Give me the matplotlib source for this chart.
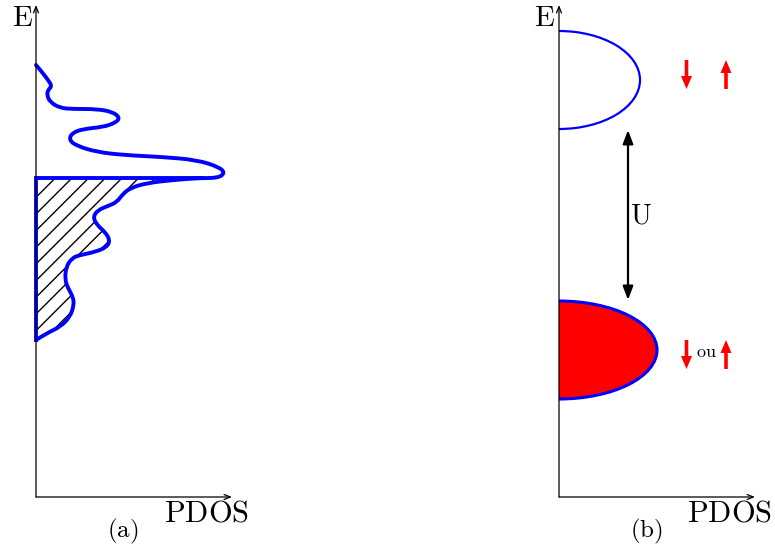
import matplotlib
matplotlib.use("Agg")
import matplotlib.pyplot as plt
from matplotlib.patches import Arc, Ellipse, Rectangle, PathPatch
from matplotlib.path import Path

plt.rcParams['mathtext.fontset'] = 'cm'
plt.rcParams['hatch.linewidth'] = 1.0

# panel (a): projected DOS, (pdos, E) pairs above the Fermi level
dos_top_pdos = [0, 6, 12, 16, 12, 11, 14, 24, 37, 61, 77, 84, 79, 67, 47, 36, 33,
                41, 61, 87, 127, 161, 183, 189, 182, 164]
dos_top_E = [432, 425, 417, 411, 407, 402, 395, 389, 388, 388, 385, 379, 374, 370,
             368, 364, 357, 351, 345, 342, 340, 337, 330, 324, 319, 319]
# ... and below it (occupied states)
dos_low_pdos = [164, 137, 111, 94, 86, 81, 72, 62, 57, 61, 69, 74, 71, 59, 44, 36,
                30, 29, 32, 37, 38, 34, 24, 11, 0]
dos_low_E = [319, 317, 314, 309, 302, 295, 291, 287, 280, 272, 265, 257, 250, 245,
             242, 239, 230, 217, 209, 200, 192, 180, 170, 164, 157]
fermi_E = 319
fermi_pdos = 167

# panel (b): Hubbard bands (centre E, half height, width)
upper_band = (417, 49, 81)
lower_band = (147, 49, 98)
gap_pdos = 69
gap_E = (367, 197)
spin_pdos = (127.5, 167)
spin_E_upper = (437, 408)
spin_E_lower = (157, 128)

axis_E_max = 492
axis_pdos_max = 196

origin_a = (36, 51)
origin_b = (559, 51)

fig = plt.figure(figsize=(7.75, 5.48), dpi=100)
ax = fig.add_axes([0, 0, 1, 1])
ax.set_xlim(0, 775)
ax.set_ylim(0, 548)
ax.axis('off')


def smooth_verts(xs, ys):
    # quadratic B-spline through the given control points
    pts = list(zip(xs, ys))
    verts = [pts[0]]
    codes = [Path.MOVETO]
    for i in range(1, len(pts) - 2):
        mid = ((pts[i][0] + pts[i + 1][0]) / 2, (pts[i][1] + pts[i + 1][1]) / 2)
        verts += [pts[i], mid]
        codes += [Path.CURVE3, Path.CURVE3]
    verts += [pts[-2], pts[-1]]
    codes += [Path.CURVE3, Path.CURVE3]
    return verts, codes


def draw_axes(o, sub):
    ox, oy = o
    ap = dict(arrowstyle='->,head_length=0.45,head_width=0.18', lw=0.9,
              color='black', shrinkA=0, shrinkB=0)
    ax.annotate('', xy=(ox, oy + axis_E_max), xytext=(ox, oy), arrowprops=ap)
    ax.annotate('', xy=(ox + axis_pdos_max, oy), xytext=(ox, oy), arrowprops=ap)
    ax.text(ox - 14, oy + 479, r'$\mathrm{E}$', fontsize=21, ha='center', va='center')
    ax.text(ox + 171, oy - 16, r'$\mathrm{PDOS}$', fontsize=22, ha='center', va='center')
    ax.text(ox + 87, oy - 34, r'$\mathrm{(%s)}$' % sub, fontsize=18, ha='center', va='center')


# ---- panel (a)
ox, oy = origin_a
draw_axes(origin_a, 'a')

# hatched occupied part: Fermi line, DOS curve down to the axis, back up
low_x = [ox + p for p in dos_low_pdos]
low_y = [oy + e for e in dos_low_E]
v, c = smooth_verts(low_x, low_y)
v = [(ox, oy + fermi_E)] + v + [(ox, oy + fermi_E), (ox, oy + fermi_E)]
c = [Path.MOVETO] + [Path.LINETO] + c[1:] + [Path.LINETO, Path.CLOSEPOLY]
ax.add_patch(PathPatch(Path(v, c), facecolor='none', edgecolor='black', lw=0, hatch='//'))

curve_x = [ox + p for p in dos_top_pdos + dos_low_pdos[1:]]
curve_y = [oy + e for e in dos_top_E + dos_low_E[1:]]
v, c = smooth_verts(curve_x, curve_y)
ax.add_patch(PathPatch(Path(v, c), facecolor='none', edgecolor='blue', lw=2.8,
                       capstyle='round', joinstyle='round'))
ax.plot([ox, ox, ox + fermi_pdos], [oy + dos_low_E[-1], oy + fermi_E, oy + fermi_E],
        color='blue', lw=2.8, solid_joinstyle='miter')

# ---- panel (b)
ox, oy = origin_b
draw_axes(origin_b, 'b')
e_c, h, w = upper_band
ax.add_patch(Arc((ox, oy + e_c), 2 * w, 2 * h, theta1=-90, theta2=90,
                 color='blue', lw=1.6))
e_c, h, w = lower_band
band = Ellipse((ox, oy + e_c), 2 * w, 2 * h, facecolor='red', edgecolor='blue', lw=2.2)
ax.add_patch(band)
band.set_clip_path(Rectangle((ox, 0), 300, 548, transform=ax.transData))

ax.annotate('', xy=(ox + gap_pdos, oy + gap_E[0]), xytext=(ox + gap_pdos, oy + gap_E[1]),
            arrowprops=dict(arrowstyle='<|-|>,head_length=0.45,head_width=0.17',
                            lw=1.6, color='black', shrinkA=0, shrinkB=0,
                            mutation_scale=18))
ax.text(ox + gap_pdos + 13, oy + 281, r'$\mathrm{U}$', fontsize=20, ha='center', va='center')

for e_top, e_bot in (spin_E_upper, spin_E_lower):
    x_dn, x_up = spin_pdos
    ax.arrow(ox + x_dn, oy + e_top, 0, e_bot - e_top, width=3.6, head_width=11,
             head_length=13, length_includes_head=True, color='red', lw=0)
    ax.arrow(ox + x_up, oy + e_bot, 0, e_top - e_bot, width=3.6, head_width=11,
             head_length=13, length_includes_head=True, color='red', lw=0)
ax.text(ox + 147, oy + 145, r'$\mathrm{ou}$', fontsize=13, ha='center', va='center')

fig.savefig('out.png', dpi=100)
